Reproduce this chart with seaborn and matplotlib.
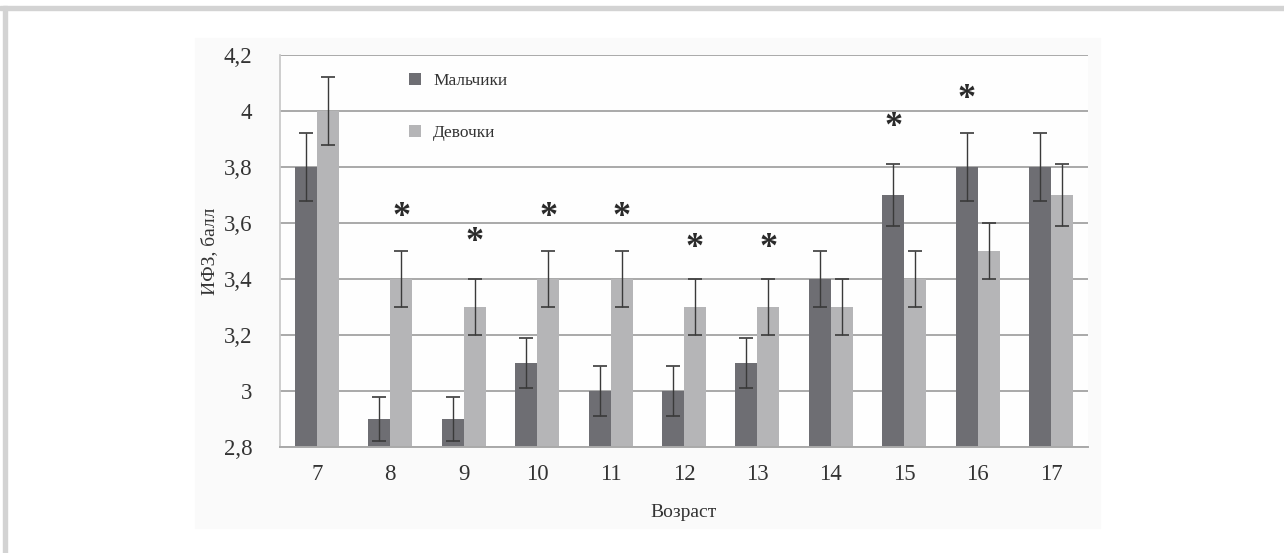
import pandas as pd
import numpy as np
import matplotlib
matplotlib.use('Agg')
import matplotlib.pyplot as plt
import seaborn as sns
from matplotlib.patches import Rectangle
from matplotlib.ticker import FuncFormatter

# data
ages = ['7', '8', '9', '10', '11', '12', '13', '14', '15', '16', '17']
boys = [3.8, 2.9, 2.9, 3.1, 3.0, 3.0, 3.1, 3.4, 3.7, 3.8, 3.8]
girls = [4.0, 3.4, 3.3, 3.4, 3.4, 3.3, 3.3, 3.3, 3.4, 3.5, 3.7]
boys_err = [0.12, 0.08, 0.08, 0.09, 0.09, 0.09, 0.09, 0.10, 0.11, 0.12, 0.12]
girls_err = [0.12, 0.10, 0.10, 0.10, 0.10, 0.10, 0.10, 0.10, 0.10, 0.10, 0.11]
groups = ['Мальчики', 'Девочки']

# significance stars: age, which bar, height
star_ages = ['8', '9', '10', '11', '12', '13', '15', '16']
star_group = ['Девочки'] * 6 + ['Мальчики'] * 2
star_y = [3.62, 3.53, 3.62, 3.62, 3.51, 3.51, 3.94, 4.04]

df = pd.DataFrame({
    'age': ages * 2,
    'value': boys + girls,
    'group': [groups[0]] * len(ages) + [groups[1]] * len(ages),
})

sns.set_theme(style='white')
plt.rcParams['font.family'] = ['Liberation Serif', 'DejaVu Serif']

fig = plt.figure(figsize=(12.84, 5.53), dpi=100)
fig.patch.set_facecolor('white')
# outer frame lines and chart image background
for r in [Rectangle((0, 1 - 10 / 553), 1, 4 / 553, color='#d3d3d3'),
          Rectangle((3 / 1284, 0), 4 / 1284, 1 - 6 / 553, color='#d3d3d3'),
          Rectangle((195 / 1284, 1 - 528 / 553), 905 / 1284, 490 / 553, color='#fafafa')]:
    r.set_transform(fig.transFigure)
    r.set_zorder(-10)
    fig.add_artist(r)

ax = fig.add_axes([280 / 1284, 1 - 447 / 553, 808 / 1284, 392 / 553])
ax.set_zorder(1)
ax.set_facecolor('#fefefe')

colors = {'Мальчики': '#6e6e73', 'Девочки': '#b5b5b7'}
sns.barplot(data=df, x='age', y='value', hue='group', order=ages, hue_order=groups,
            palette=colors, width=0.6, errorbar=None, ax=ax, zorder=2,
            saturation=1, linewidth=0)

# error bars at bar centers
errs = {groups[0]: (boys, boys_err), groups[1]: (girls, girls_err)}
centers = {}
for cont, g in zip(ax.containers, groups):
    xs = [p.get_x() + p.get_width() / 2 for p in cont.patches]
    centers[g] = xs
    vals, e = errs[g]
    ax.errorbar(xs, vals, yerr=e, fmt='none', ecolor='#3a3a3a', elinewidth=1,
                capsize=5, capthick=1.2, zorder=3)

for a, g, y in zip(star_ages, star_group, star_y):
    x = centers[g][ages.index(a)]
    ax.text(x, y, '*', ha='center', va='center', fontsize=26, color='#2a2a2a',
            fontweight='bold', zorder=4)

ax.set_xlim(-0.5, len(ages) - 0.5)
ax.set_ylim(2.8, 4.2)
ax.set_yticks(np.arange(2.8, 4.21, 0.2))
ax.yaxis.set_major_formatter(FuncFormatter(lambda v, p: ('%g' % round(v, 1)).replace('.', ',')))
ax.grid(axis='y', color='#a9a9a9', linewidth=1.4, zorder=0)
ax.set_axisbelow(True)
for s in ['top', 'right']:
    ax.spines[s].set_visible(False)
ax.spines['bottom'].set_color('#a9a9a9')
ax.spines['bottom'].set_linewidth(1.4)
ax.spines['left'].set_color('#c8c8c8')
ax.tick_params(axis='both', length=0, labelsize=16.5, colors='#333333')
ax.tick_params(axis='x', pad=12)
ax.tick_params(axis='y', pad=20)

ax.set_xlabel('Возраст', fontsize=14, color='#333333', labelpad=14)
ax.set_ylabel('ИФЗ, балл', fontsize=14, color='#333333', labelpad=4)

leg = ax.legend(loc='upper left', bbox_to_anchor=(0.14, 0.995), frameon=False,
                fontsize=12.5, labelspacing=2.1, handlelength=0.7, handleheight=0.7,
                handletextpad=0.7)
for t in leg.get_texts():
    t.set_color('#333333')

fig.savefig('out.png', dpi=100)
